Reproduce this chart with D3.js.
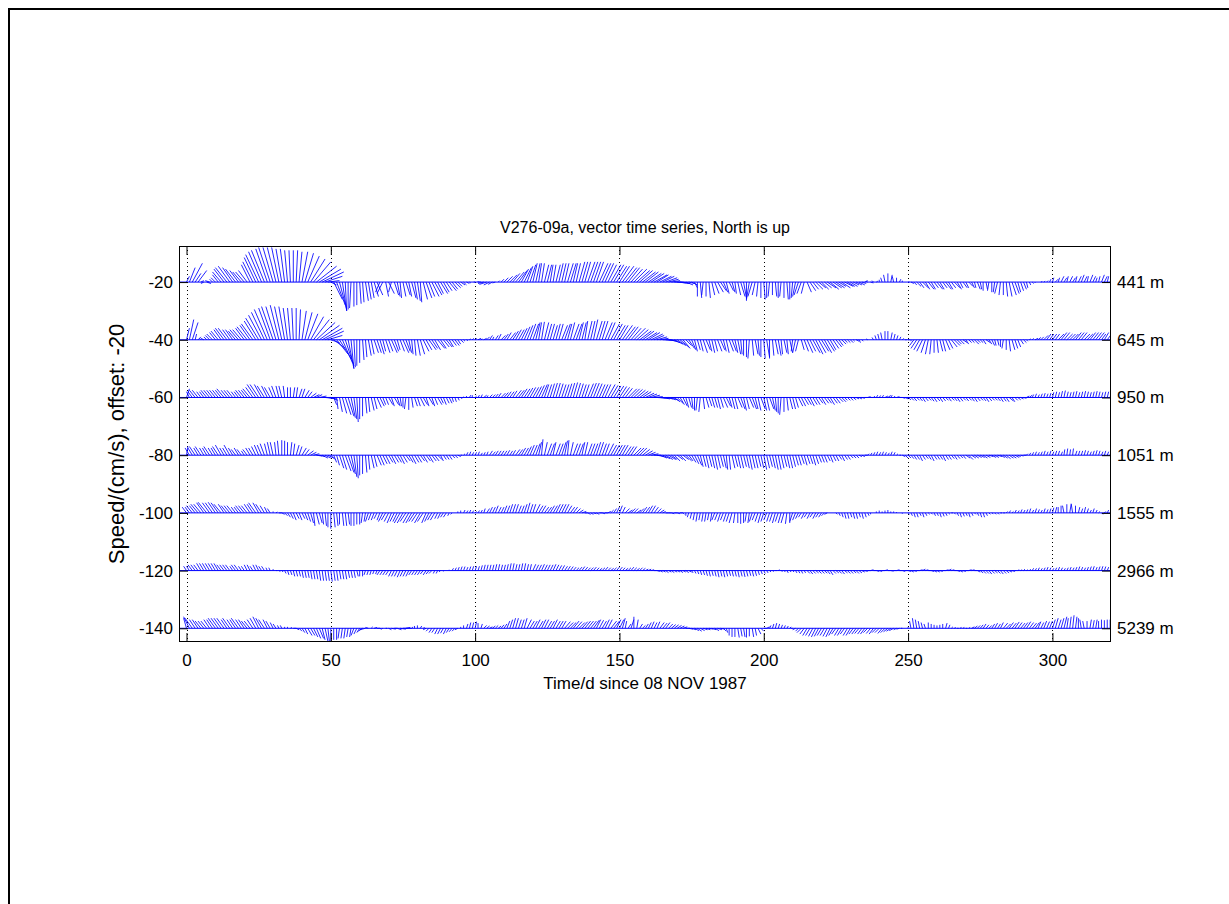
<!DOCTYPE html>
<html>
<head>
<meta charset="utf-8">
<script src="https://cdn.jsdelivr.net/npm/d3@7"></script>
<style>
body { margin: 0; background: #fff; }
text { font-family: "Liberation Sans", Arial, Helvetica, sans-serif; fill: #000; }
</style>
</head>
<body>
<svg id="chart" width="1229" height="904"></svg>
<script>
// depth labels and their vertical offsets (offset step -20)
var depths = ["441 m", "645 m", "950 m", "1051 m", "1555 m", "2966 m", "5239 m"];
var offsets = [-20, -40, -60, -80, -100, -120, -140];
var xTicks = [0, 50, 100, 150, 200, 250, 300];
var yTicks = [-140, -120, -100, -80, -60, -40, -20];

// daily velocity components (cm/s), day 0..320
var u441 = [1,2,3.5,2,3,1,-1,1.5,-1.5,-1,
-1.5,-2,-3,-3.5,-4,-4,-3.5,-3.5,-3,-3,
-3,-3,-3,-3.5,-4,-4.5,-4.5,-4.5,-4,-4,
-3.5,-3,-2.5,-2,-1.5,-1,-0.5,0,0.5,1,
2,3,4,5,6,7,7.5,7.5,6,4,
2,3,3,2.5,1.5,0.5,0,-0.5,0,0,
0.5,0.5,1,1,1,1.5,2,-1.5,-2,1,
2,-1,1.5,1,0.5,1,1.5,1,1.5,1,
1,0.5,1.5,2,2,2.5,2.5,2,2.5,2,
2,2.5,2,2,1.5,1.5,1,1,0.5,0,
-0.5,0,-1,-2,-2.5,-2,-1.5,-1,0.5,1,
1.5,2,2.5,2.5,3,3,2.5,2.5,2,2,
1.5,1.5,1,1,1.5,1.5,1,1,1.5,1.5,
1.5,1.5,2,2,1.5,1.5,2,2,2,2.5,
2.5,2.5,2.5,3,3,3,3,3.5,3.5,3.5,
3.5,4,4,4,4,4.5,4.5,4.5,4.5,4.5,
4.5,4.5,4.5,4,4,4,4,3.5,3,3,
3,3,2.5,2.5,2,2,1,0,0.5,-0.5,
0,0.5,1,1.5,2,2,1.5,1,1.5,1,
0.5,1,1.5,1,0,-1,-1.5,-1,-0.5,0,
0.5,0,-0.5,0,0.5,0,-0.5,0,0.5,0,
-0.5,-1,-1.5,-1.5,-1,1.5,2,2,2.5,2.5,
2.5,2.5,3,3,3,3,2.5,3,3,2.5,
2.5,2,2,2,1.5,1,-0.5,1,-0.5,0.5,
0,-0.5,-0.5,0,0.5,-0.5,0,0.5,0,0,
0.5,1,1,1.5,1.5,2,1.5,2,1.5,1.5,
2,1.5,1.5,2,1.5,1.5,2,1.5,1,1.5,
1,1.5,1,0.5,1,0.5,0,0.5,-0.5,0,
-0.5,-1,-0.5,0,0.5,1,1.5,1.5,1,1,
1,0.5,0.5,0.5,0,0,0.5,0.5,0.5,0.5,
0.5,1,0.5,1,1,0.5,1,1,0.5,1,
1,1,0.5,1,1,0.5,0.5,1,1,0.5,
0.5];
var v441 = [2,5,6.5,3,4,0.5,-0.5,-0.5,0.5,1,
1.5,2.5,3.5,4.5,5,5.5,5,4.5,4,3.5,
3.5,4,6,7,8.5,9.5,10.5,11,11.5,12,
12,12,12,11.5,11.5,11,11,11,11,10.5,
10.5,10,9,8,7,5.5,4.5,3.5,2,0.5,
-1,-6,-8,-9.5,-10,-10,-9.5,-9,-8.5,-8,
-7.5,-7,-6.5,-6,-5.5,-5,-4.5,-3.5,-4,-5,
-4,-3.5,-4.5,-5,-5.5,-5,-4.5,-5,-5.5,-6,
-6.5,-7,-6,-5.5,-5,-5,-4.5,-4,-4,-3.5,
-3,-3,-2.5,-2,-1.5,-1,-1,-0.5,-0.3,0,
0,0.3,0,-0.5,-0.8,-1,-0.8,-0.3,0.5,1,
1.5,2,2.5,3,3.5,4,4.5,5,5.5,6,
6.5,6.5,6.5,6.5,6,6,6,6,6,6.5,
6.5,6.5,6.5,6.5,6.5,6.5,7,7,7,7,
7,7,7,6.5,6.5,6.5,6,6,6,5.5,
5.5,5.5,5,5,4.5,4.5,4,4,3.5,3.5,
3,3,2.5,2.5,2,2,1.5,1,0.5,0,
-0.3,-0.5,-0.5,-1,-0.5,-1,-2,-5,-5.5,-4.5,
-5,-5.5,-4.5,-4,-3.5,-3,-3.5,-4,-3,-3.5,
-4,-4.5,-5,-5.5,-6.5,-6,-5,-4.5,-5,-5.5,
-6,-5.5,-5,-4.5,-5,-5.5,-5,-5.5,-6,-6,
-5.5,-5,-4.5,-4,-4,-3.5,-3,-2.5,-2.5,-2,
-2.5,-2,-2,-2.5,-2,-2,-1.5,-2,-1.5,-1.5,
-1.5,-1,-1,-1,-0.5,0.5,0.3,-0.3,0.5,0.3,
0.8,1.5,2.5,3,2.5,2,1.5,1,0.5,0,
0,-0.5,-1,-1.5,-2,-2,-2.5,-2.5,-2.5,-2,
-2.5,-2.5,-2,-2.5,-2.5,-2,-2,-2.5,-2,-2,
-2,-1.5,-2,-2,-2.5,-2.5,-3,-2.5,-3,-3.5,
-3.5,-4,-4.5,-4.5,-5,-5,-4.5,-4,-3.5,-3,
-2.5,-2,-1,-0.5,-0.3,0,0.2,0.3,0.5,1,
1.5,1,1.5,2,1.5,2,2,1.5,2,2,
2.5,2,2,2.5,2,1.5,2,2.5,2,2,
2];

var u645 = [1,1.5,2,0.5,1,-0.5,-1,-1,-1.5,-2,
-2,-2.5,-2.5,-3,-3,-2.5,-2.5,-2.5,-3,-3,
-3,-3.5,-3.5,-4,-4,-4.5,-4.5,-4.5,-4.5,-4,
-4,-3.5,-3,-2.5,-2,-1.5,-1,-0.5,0,0.5,
1.5,2.5,3.5,4.5,5.5,6.5,7,7,6.5,5,
3,4,4,4,3.5,3,2,1,0.5,0,
0,0.5,0.5,1,1,1.5,1.5,1.5,1,1.5,
1.5,2,1.5,1,1.5,2,1.5,1,0.5,0.5,
1,1.5,2,2,2.5,2,2,2.5,2,2,
2,1.5,1.5,1.5,1,1,0.5,0.5,0.5,0.5,
0.5,1,0.5,1,1,1,0.5,1,1,1.5,
1.5,1.5,2,2,2,2,2,2,2,2,
2,1.5,1,1,1.5,1.5,1.5,1.5,1.5,1.5,
2,2,1.5,1.5,2,2,1.5,1.5,1,1.5,
1.5,1.5,2,2,2,2.5,2.5,3,3,3,
3,3.5,3.5,3.5,3.5,4,4,4,4,4,
4,4,3.5,3.5,3,3,3,3,3,3,
3,3,2.5,2,2,1.5,1,1,1,1.5,
1.5,1,1,1,1.5,1.5,1,1,1.5,1.5,
1,1,0.5,0,0,-0.5,0.5,1,0.5,0,
0.5,1,0,0.5,1,1,0.5,1,0.5,1,
-0.5,-1,-1,1,1.5,2,2,2.5,2.5,2.5,
2.5,2.5,2.5,2,2,2,1.5,1.5,1,1,
1,0.5,1,0.5,0.5,0,-0.5,0,-0.5,-0.5,
-0.5,-0.5,0,0,0.5,0.5,0.5,0.5,0.5,0.5,
0.5,0,-1.5,-2,-2,-2,-1.5,-1,-0.5,0,
0.5,1,1,1.5,1.5,2,2,1.5,1.5,1.5,
1,1,1,1.5,1,1,1,1.5,1,1,
0.5,0.5,0,-0.5,0,0.5,1,1,1,1,
1,0.5,0.5,0.5,1,1,1,1.5,1.5,1.5,
1.5,1.5,2,2,2,2,2,2,2,2,
2,2,2,2,2,2,2,1.5,1.5,1.5,
1.5];
var v645 = [4,7,6,2,1,0.5,0.5,1,1.5,2,
2.5,3,3.5,4,4,3.5,3.5,3,3.5,3.5,
4,4.5,5,5.5,6.5,7.5,8.5,9.5,10.5,11,
11.5,11.5,12,11.5,11.5,11,11,11,11,10.5,
10,9.5,9,8,7,6,5,4,3,1.5,
-1,-3,-5,-6.5,-8,-9,-10,-10,-9.5,-9,
-8,-7,-6,-5.5,-5,-4.5,-4.5,-5,-4,-4.5,
-4,-4.5,-4,-3.5,-4,-4.5,-4,-4.5,-5,-5.5,
-5.5,-5,-4,-3.5,-3.5,-3,-3.5,-3,-3,-2.5,
-2.5,-2.5,-2,-2,-1.5,-1,-0.5,-0.3,0.3,0.5,
0.5,0.5,0.3,0.5,1,1.5,1,1.5,2,1.5,
2,2.5,2.5,3,3.5,3.5,4,4.5,5,5.5,
5.5,6,6,6.2,6,5.5,5.5,5,5.5,5.5,
5,5.5,5.5,6,5.5,5.5,6,6,6.5,6.5,
6.5,7,6.5,6.5,6.5,6,6,5.5,5.5,5,
5,5,4.5,4.5,4,4,3.5,3,3,2.5,
2.5,2,1.5,1,0.5,0,-0.3,-0.5,-1,-1.5,
-2,-2.5,-3,-2,-3,-3.5,-4,-3.5,-4,-4.5,
-3.5,-4,-4.5,-4,-4,-3.5,-4,-4.5,-4,-4,
-4.5,-5,-5,-5.5,-6,-6.5,-5.5,-5,-5.5,-6,
-6.5,-6,-6.5,-5.5,-5,-5.5,-5,-4.5,-5,-4.5,
-4,-4.5,-4,-3.5,-4,-4.5,-4,-4.5,-5,-4.5,
-4,-4.5,-4,-3.5,-3,-2.5,-2,-1.5,-1,-1,
-1,-0.5,-0.5,-1,-0.5,0,0.3,0,0.8,1.5,
2,2.5,3,3,2.5,2,1.5,1,0.5,0,
0,-0.5,-2,-3,-3.5,-4,-4.5,-5,-5,-4.5,
-4.5,-4,-4,-3.5,-3,-2.5,-2,-1.5,-1.5,-1,
-1.5,-1,-1,-1.5,-1,-1,-1.5,-1,-1.5,-2,
-2,-2,-2.5,-3,-3.5,-4,-3.5,-3,-2.5,-1.5,
-1,-0.5,0.3,0.5,0.5,0.8,1,1.5,2,2,
2,2,2,2.5,2.5,2,2,2,2.5,2.5,
2.5,2,2,2.5,2.5,2.5,2.5,2,2.5,2,
2];

var u950 = [1,-1,-1.5,-2,-2,-1.5,-1.5,-2,-2,-2,
-2,-2,-2,-2.5,-2,-2,-2,-1.5,-1.5,-2,
-2,-2,-2.5,-2.5,-3,-3,-2.5,-2.5,-2,-2,
-1.5,-1.5,-1,-1,-0.5,0,0,0.5,0.5,1,
1,1.5,1.5,2,2,2,2.5,3,3,3,
2.5,1,0.5,1,1.5,2,2,1.5,1,0.5,
0,0,0.5,0.5,1,1,1.5,1.5,1,1,
1.5,1,1.5,1,0.5,0,-0.5,0,0.5,1,
1,1.5,1.5,1,1.5,1,1,1.5,1,1,
1,1,0.5,0.5,0.5,0.5,0,0,0.5,0,
0.5,0.5,0.5,1,0.5,1,1,1,1,1.5,
1.5,1.5,1.5,1.5,2,2,2,2,2,2,
2,2,2,2,1.5,1.5,1.5,1.5,1.5,1.5,
1.5,1.5,1.5,1.5,1.5,1.5,1.5,1.5,1.5,2,
2,2,2,2,2,2,2.5,2.5,2.5,2.5,
2.5,2.5,2.5,3,3,3,3,3,3,3,
3,3,3,3,3,2.5,2.5,2.5,2.5,2,
2,1.5,1.5,1,1,0.5,0,-0.5,-0.5,0.5,
1,1,1,1,1,1,1.5,1.5,1,1,
1,1.5,1.5,1,1,1.5,1.5,1,1,1.5,
1,1,1.5,1,0.5,0,-0.5,0,0.5,1,
1,1,1.5,1.5,1.5,1.5,1.5,1.5,1.5,1.5,
1.5,1.5,1.5,1.5,1.5,1.5,1.5,1.5,1,1,
1,1,1,1,1,1,1,1,0.5,0.5,
0.5,0.5,1,1,0.5,0.5,1,1,1,1,
1,1,1,1,1,1,1,1,1,1,
1,1,1,1,1,1,1,1,1,1,
1,1,1,1,1,1,1,1,1,1,
1,1,1,1,1,1.5,1,1,1,1,
1,1,1,0.5,0.5,0.5,0.5,0.5,0.5,0.5,
0.5,0.5,0.5,0.5,0.5,0.5,0.5,0.5,0.5,0.5,
0.5,0.5,0.5,0.5,0.5,0.5,0.5,0.5,0.5,0.5,
0.5];
var v950 = [3,2,2,2.5,2.5,2,2,2.5,2.5,2.5,
2.5,2.5,2.5,3,2.5,2.5,2.5,2,2,2.5,
2.5,2.5,3,3.5,4.5,4.5,4.5,4,4,3.5,
3.5,4,4,4,4,3.5,3.5,3.5,3.5,3,
3,2.5,2,1.5,1,1,0.5,0,-0.3,-0.5,
-1,-2.5,-4,-5,-5.5,-6,-6.5,-7,-7.5,-8.5,
-7.5,-6.5,-5.5,-5,-4.5,-4,-3.5,-3,-2.5,-2.5,
-2.5,-3,-2.5,-3,-3,-3.5,-4,-4.3,-3.5,-3,
-3,-3,-2.5,-3,-2.5,-3,-2.5,-2.5,-2,-2.5,
-2,-2,-1.5,-1.5,-1,-0.5,0.3,0.5,0.8,0.8,
0.5,0.8,1,0.8,0.7,1,1,1.2,1.5,1.5,
1.7,2,2,2.3,2.5,2.5,3,3,3.3,3.5,
3.5,3.8,4.2,4.5,4.5,4.5,4.8,5,5,4.8,
4.5,4.5,4.8,5,5.2,5,4.8,4.5,4.5,4.8,
5,5,4.8,4.5,4.5,4.5,4.5,4.2,4,4,
3.8,3.5,3.2,3,3,2.8,2.5,2.2,2,1.5,
1.2,0.8,0.3,-0.2,-0.3,-0.5,-0.5,-0.8,-1,-1.5,
-2,-2.5,-3,-3.5,-3.5,-4,-4.5,-4.5,-5,-4,
-3.5,-3,-3.5,-3.5,-4,-3.5,-3.5,-3,-3.5,-4,
-4,-3.5,-4,-4.5,-4,-3.5,-4,-4,-4.5,-4,
-4.5,-4.5,-4,-4.5,-5,-5.5,-6,-5,-4.5,-4,
-4,-3.5,-3,-3,-2.5,-2.5,-3,-2.5,-2.5,-2,
-2.5,-2,-2,-2.5,-2,-2,-1.5,-1.5,-1,-1,
-1,-0.8,-0.5,-0.5,-0.3,0,0.3,0,0.5,0.8,
0.7,0.8,0.5,0.7,0.8,0.5,0.3,0,-0.3,-0.5,
-0.8,-1,-1.2,-1,-1.2,-1.5,-1.2,-1,-1.3,-1.5,
-1.2,-1.5,-1.2,-1,-1.3,-1,-1.2,-1.5,-1.3,-1,
-1.2,-1,-1.3,-1.5,-1.2,-1,-1.2,-1.5,-1.2,-1,
-1,-1.2,-1.5,-1.3,-1.5,-1.2,-1.5,-1,-0.8,-0.5,
-0.3,0.5,0.8,1,1.3,1,1.3,1.5,1.3,1.5,
1.8,2,1.8,2.2,2.4,2,1.8,2,2.2,1.8,
2,2.2,2,1.8,2,2.2,2,1.8,2,2,
1.8];

var u1051 = [0.5,-1.5,-1.5,-2,-1.5,-2,-1.5,-1.5,-2,-1.5,
-1.5,-2,-2,-1.5,-1.5,-2,-1.5,-1.5,-1.5,-1.5,
-1,-1.5,-1.5,-1.5,-1.5,-1.5,-1.5,-1.5,-1,-1,
-1,-0.5,-0.5,0,0,0,0.5,0.5,1,1,
1.5,1.5,2,2,2,2,2,2,2,2,
1.5,1,1,1.5,1.5,2,2,1.5,1,0.5,
0,0,0.5,0.5,1,1,1.5,1.5,1.5,1.5,
1.5,1.5,1.5,1.5,1.5,1.5,1.5,1.5,1.5,1.5,
1.5,1.5,1.5,1.5,1.5,1.5,1.5,1.5,1,1,
1,1,1,1,1,0.5,0.5,0.5,0.5,0.5,
0.5,0.5,0.5,0.5,0.5,1,1,1,1,1,
1,1,1,1,1.5,1.5,1.5,1.5,1.5,1.5,
1.5,1.5,1,0.5,1,1.5,1.5,1,1.5,1.5,
1.5,1,0.5,1,1.5,1.5,1.5,1,1,1.5,
1.5,1.5,1.5,1.5,1.5,1.5,2,2,2,2,
2,2,2,2,2,2.5,2.5,2.5,2.5,2.5,
2.5,2.5,2.5,2.5,2.5,2.5,2.5,2.5,2,2,
2,2,2,2,1.5,1.5,1.5,1.5,1,1,
1,1,1,1,1,1,1,0.5,0.5,1,
1,1,1,1,1,1,1,1,1,1,
1,1,1,1,1,1,1,1,1,1,
1,1,1,1,1,1,1,1,1,1,
1,1,1,1,1,1,1,1,1,1,
1,1,1,1,1,1,0.5,0.5,0.5,0.5,
0.5,0.5,0.5,0.5,0.5,0.5,0.5,0.5,1,1,
1,1,1,1,1,1,1,1,1,1,
1,1,1,1,1,1,1,1,1,1,
1.5,1.5,1.5,1.5,1.5,1.5,1.5,1.5,1.5,1.5,
1.5,1.5,1.5,1.5,1.5,1.5,1.5,1.5,1,1,
1,0.5,0.5,0.5,0.5,0.5,0.5,0.5,0.5,0.5,
0.5,0.5,0.5,0.5,0.3,0.3,0.3,0.3,0.5,0.5,
0.5,0.5,0.5,0.5,0.5,0.5,0.5,0.5,0.5,0.5,
0.5];
var v1051 = [3,2.5,2.5,3,2.5,3,2.5,2.5,3,2.5,
2.5,3,3.5,2.5,2.5,3.5,2.5,2,2.5,2,
1.5,2,2.5,2.5,3,3.5,3.5,4,4,4.5,
4.5,4.5,5,5.2,5,4.5,4.5,4,3.5,3,
2.5,2,1.5,1,0.5,-0.3,-0.5,-1,-1,-1,
-1.5,-2.5,-3.5,-4.5,-5,-5.5,-6,-6.5,-7.5,-8,
-7,-6.5,-6,-5,-4.5,-4,-3.5,-3.5,-3,-3,
-2.5,-3,-2.5,-2.5,-3,-2.5,-2,-2.5,-3,-2.5,
-2.5,-2,-2.5,-2,-2.5,-2,-2,-1.5,-2,-1.5,
-1.5,-1.5,-1,-1,-0.5,0,0.5,1,1.2,1,
1,1.2,0.8,1,1.2,1.5,1.2,1.5,1.5,1.5,
1.5,1.7,1.5,1.7,2,2,2.5,2.5,3,3.5,
3.5,4,4.5,5.5,4.5,4,4,4.5,4,4,
4.5,5,5.2,4.5,4,4,4,4.5,4.5,4,
4,4,4.5,4.5,4,4,4,3.5,3.5,3.5,
3.5,3.5,3,3,3,2.5,2.5,2.5,2,1.5,
1,0.5,0,-0.5,-1,-1.2,-1.5,-1.5,-1.5,-2,
-1.5,-2,-1.5,-2,-2,-2.5,-3,-3.5,-4,-4,
-4.5,-4,-4.5,-5,-4.5,-4,-4.5,-5,-5,-4.5,
-4,-4.5,-4.5,-4,-4.5,-5,-4.5,-4.5,-4,-4.5,
-5,-4.5,-4,-4.5,-5,-5,-4.5,-4,-4.5,-4.5,
-4,-3.5,-3.5,-3,-3.5,-3,-3,-3.5,-3,-2.5,
-2.5,-2.5,-2,-2.5,-2,-2,-1.5,-2,-1.5,-1.5,
-1,-1,-1,-0.5,-0.5,0,0.5,0.8,1,1.2,
1,1.2,1,0.8,1.2,1,0.5,0,-0.5,-1,
-1,-1.2,-1.5,-1.5,-2,-1.5,-1.2,-1.5,-2,-1.5,
-1.5,-1.5,-2,-1.5,-1.5,-1.2,-1.5,-1.2,-1,-1.2,
-1,-1.5,-1,-1,-0.8,-0.8,-1,-0.8,-0.5,-0.8,
-0.8,-0.5,-0.8,-1,-1.2,-1,-1,-0.8,-0.5,-0.3,
0,0.5,0.8,1,1.2,1,1.2,1.5,1.2,1.5,
1.2,1.5,1.5,1.2,2,2.3,2,2.3,1.5,1.5,
1.5,1.7,1.5,1.2,1.5,1.7,1.5,1.2,1.5,1.2,
1.5];

var u1555 = [-1.5,-1.5,-2,-2,-2.5,-2.5,-2.5,-3,-2.5,-2.5,
-2.5,-2.5,-2.5,-2,-2,-2,-2,-1.5,-1.5,-2,
-2,-2,-2,-2,-2.5,-2,-2,-1.5,-1,-1,
0,0.5,1,1,1,1,1,1,1,1,
1,1,1,1,0.5,1,1,0.5,0.5,0,
0,0.5,0.5,0,0.5,0.5,0.5,0,0,0,
0,-0.5,-0.5,-1,-1,-1,-1,-1,-1.5,-1.5,
-1.5,-1.5,-1.5,-1.5,-2,-2,-2,-2,-2,-2,
-2,-2,-2,-1.5,-1.5,-1.5,-1.5,-1,-1,-1,
-1,-0.5,-0.5,0,0,0,0.5,0.5,0.5,0.5,
0.5,0.5,0.5,0.5,1,1,1,1,1,1,
1,1,1,1,1,1,1,1,1,1,
1,1.5,1.5,1.5,1.5,1.5,1.5,1.5,1.5,1.5,
1.5,1.5,1.5,1.5,1.5,1.5,1.5,1.5,1,1,
1,1,1,1,1,1,1,1,1,1,
1,1,1.5,1.5,1.5,1.5,1.5,1.5,1.5,1.5,
1.5,1.5,1.5,1.5,1.5,1,1,1,1,1,
1,1,0.5,0,-0.5,-0.5,-0.5,-0.5,-0.5,-0.5,
-0.5,-0.5,-0.5,-1,-1,-1,-1,-1,-1,-1,
-0.5,0,0,0,-0.5,-0.5,-1,-1,-1,-1,
-1,-1,-1,-1,-1,-1,-1,-1,-0.5,0,
-1,-1,-1,-1,-1,-1,-1,-1,-1,-1,
-1,-1,-1,0,0,0.5,0.5,0.5,0.5,0.5,
0.5,0.5,0.5,0.5,0.5,0.5,0.5,0,0,0,
0,0,0,0,0,0,0,0,0,0,
0.5,0.5,0.5,0.5,0.5,0.5,0.5,0.5,0.5,0.5,
0.5,0.5,0.5,0.5,0.5,0.5,0.5,0.5,0.5,0.5,
0.5,0.5,0.5,0.5,0.5,0.5,0.5,0.5,0.5,0.5,
0.5,0.5,0.5,0.5,0.5,0.5,0.5,0.5,0.5,0.5,
0.5,0.5,0.5,0.5,0.5,0.5,0.5,0.5,0.5,0.5,
0.5,0.5,0,0,-0.5,0,0.5,-0.5,0,0.5,
0.5,0.5,0.5,0.5,0.5,0.5,0.5,0.5,0.5,0.5,
0.5];
var v1555 = [2,2,2.5,2.5,3,3,3.5,3.7,3.5,3.5,
3.7,3.5,3,3,2.5,2.5,2.5,2,2,2.5,
2.5,2.5,3,3,3.5,3.5,3,2.5,2,1.5,
0.5,0.3,0,-0.5,-1,-1.5,-2,-2.5,-2,-2.5,
-2,-2.5,-3,-3.5,-4.5,-4,-3.5,-4,-4.5,-5,
-5.5,-5,-4.5,-4,-4.5,-4.5,-4,-4.5,-4.5,-4,
-4,-3.5,-3,-3,-2.5,-2.5,-2,-2.5,-3,-2.5,
-3,-3.5,-3,-3,-3.5,-3.5,-3,-3.5,-3.5,-3,
-3,-3.5,-3,-3.5,-3,-2.5,-2.5,-2,-2,-1.5,
-1.5,-1,-0.5,0,0.5,0.8,1,0.8,1,0.8,
0.5,0.8,1,1.5,1.5,2,2,2.5,2,2,
2.5,2.5,3,3,3,2.5,2.5,3,3.5,3,
3,3,2.5,2.5,2,2,2.5,2.5,3,3,
3,3,2.5,2,2,1.5,1,0.5,0,-0.5,
-0.5,-0.3,-0.5,0,-0.3,0,0.5,1,1.5,2,
2.5,2,1.5,1,1.5,1.5,1,1.5,2,2,
2.5,2.5,2,1.5,1,0.5,0,0,-0.3,0,
-0.3,0,-0.5,-1,-1.5,-2,-2.5,-3,-2.5,-3,
-3,-2.5,-3,-2.5,-2.5,-3,-2.5,-3,-3,-3.5,
-3.5,-3.5,-3.8,-3.5,-3,-3.5,-3,-2.5,-3,-3.5,
-3,-2.5,-3,-3,-3.5,-3,-3.5,-3.5,-3.8,-3.5,
-3,-2.5,-2,-1.5,-2,-1.5,-2,-1.5,-2,-1.5,
-1.5,-1,-0.5,0,0,-0.5,-1,-1.5,-2,-2,
-1.5,-2,-2,-1.5,-2,-1.5,-1,-0.5,0,0.5,
0.8,0.5,0.8,1,0.5,0.5,0.3,0,-0.3,0,
-0.5,-1,-1.5,-1.5,-1,-1.5,-1,-0.5,-0.5,-1,
-1,-1.5,-1.2,-1,-0.5,0,-0.5,-1,-1.5,-1.2,
-1,-1.5,-1,-0.5,-1,-1.5,-1.5,-1,-0.5,-0.3,
-0.5,-0.5,0,0,0.5,0.8,0.5,1,0.8,1.2,
1,1.2,1.5,1,1.5,1.2,1,1.5,1.2,1.5,
1.8,2,2,2.5,2.5,3,3,3.2,2.5,2,
1.5,2,1.5,1,1.5,1,0.5,-0.5,0.5,1,
0.8];

var u2966 = [-1,-1,-1.5,-1.5,-1.5,-1.5,-1.5,-1.5,-1.5,-1.5,
-1.5,-1.5,-1.5,-1.5,-1.5,-1.5,-1,-1.5,-1.5,-1,
-1,-1,-1,-1,-1,-1,-1,-1,-0.5,-0.5,
0,0.5,0.5,0.5,0.5,0.5,0.5,0.5,0.5,0.5,
0.5,0.5,0.5,0.5,0.5,0.5,0.5,0.5,0.5,0.5,
0.5,0.5,0.5,0.5,0.5,0.5,0.5,0.5,0.5,0.5,
0,0,-0.5,-0.5,-0.5,-0.5,-0.5,-1,-1,-1,
-1,-1,-1,-1,-1,-1,-1,-1,-1,-1,
-1,-1,-1,-1,-1,-1,-0.5,-0.5,-0.5,0,
0,0,0.5,0.5,0.5,0.5,0.5,0.5,0.5,0.5,
0.5,0.5,0.5,0.5,0.5,0.5,0.5,0.5,0.5,0.5,
0.5,0.5,0.5,0.5,0.5,0.5,0.5,0.5,0.5,0.5,
1,1,1,1,1,1,1,1,1,1,
1,1,1,1,1,1,1,1,1,1,
1,1,1,1,1,1,1,1,1,1,
1,1,1,1,1,1,1,1,1,1,
1,1,1,1,1,1,1,1,1,1,
1,1,1,1,1,0.5,0.5,0.5,0.5,0.5,
0.5,0.5,0.5,0.5,0.5,0.5,0.5,0.5,0.5,0.5,
0.5,0.5,0.5,0.5,0.5,0.5,0.5,0.5,0.5,0.5,
0.5,0.5,0.5,0.5,0.5,0.5,0.5,0.5,0.5,0.5,
0.5,0.5,0.5,0.5,0.5,1,1,1,1,1,
1,1,1,1,1,1,1,1,1,1,
1,1,1,1,1,1,1,1,1,1,
1,1,1,1,1,1,1,1,1,1,
1,1,1,1,1,1,1,1,1,1,
1,1,1,1,1,1,1,1,1,1,
1,1,1,1,1,1,1,1,1,1,
1,1,1,1,1,1,1,0.5,0.5,0.5,
0.5,0.5,0.5,0.5,0.5,0.5,0.5,0.5,0.5,0.5,
0.5,0.5,0.5,0.5,0.5,0.5,0.5,0.5,0.5,0.5,
0.5,0.5,0.5,0.5,0.5,0.5,0.5,0.5,0.5,0.5,
0.5];
var v2966 = [1.5,1.5,2,2,2,2.5,2.5,2.5,2.5,2.5,
2.5,2.5,2,2,2,2,1.5,2,2,1.5,
1.5,2,2,1.5,2,2,1.5,1.5,1,1,
0.5,0,-0.3,-0.5,-1,-1.5,-1.5,-2,-2,-2,
-2.5,-2.5,-2.5,-3,-3,-3,-3.5,-3.5,-3.5,-3.5,
-3.8,-3.5,-3.5,-3,-3,-3,-2.5,-2.5,-2.5,-2,
-2,-2,-1.5,-1.5,-1.5,-1.2,-1.2,-1.5,-1.5,-1.5,
-1.5,-2,-2,-2,-2.3,-2,-2,-2,-1.5,-1.5,
-1.5,-1.5,-1.2,-1.5,-1.2,-1,-1,-1,-0.5,-0.3,
0,0.3,0.8,1,1.2,1.4,1.4,1.2,1.4,1.5,
1.5,1.5,1.8,2,2,2,2,2.2,2.2,2,
2,2.2,2.5,2.5,2.2,2.2,2.5,2.5,2.2,2.2,
2.2,2,2,2.2,2,2,2,2.2,2,1.8,
1.8,1.5,1.5,1.4,1.2,1,1.2,1.4,1.2,1,
1,1.2,1,0.8,1,1.2,1,0.8,1,1.2,
1.2,1,0.8,1,1.2,1,0.8,1,0.8,0.5,
0.5,0.3,0,-0.3,-0.5,-0.5,-0.7,-0.5,-0.7,-0.5,
-0.5,-0.7,-0.5,-0.7,-0.5,-0.8,-1,-1.2,-1.5,-1.5,
-1.8,-2,-1.8,-2,-2.3,-2,-2.3,-2,-1.8,-2,
-2,-2.3,-2,-2.2,-2,-1.8,-2,-1.8,-1.5,-1.2,
-1,-0.8,-0.5,-0.3,0,0.3,-0.3,-0.5,-0.8,-0.5,
-0.5,-0.8,-0.9,-1,-0.8,-1,-1.2,-1,-0.8,-1,
-1,-0.9,-1.2,-1.5,-1,-0.8,-1,-1.2,-0.8,-1,
-1,-0.8,-1,-0.8,-0.5,-0.3,0,0.3,0,-0.3,
-0.3,0,0.3,0,-0.2,0,0.3,0,-0.3,0,
-0.3,-0.5,-0.3,0,0.3,0.5,0.3,0,-0.3,-0.5,
-0.5,-0.3,0,0.3,0.5,0.3,0,-0.3,-0.5,-0.3,
0,0.3,0.3,0,-0.5,-0.8,-1,-1,-1.2,-1,
-0.8,-1,-1.2,-1,-0.8,-0.5,-0.3,0,0.3,0.3,
0.5,0.3,0.5,0.8,0.8,1,0.8,1,1.2,1,
0.8,1,1.2,1,0.8,1,1.2,1,1.2,1.4,
1.2,1,1.2,1.4,1.5,1.2,1.4,1.5,1.4,1.2,
1.4];

var u5239 = [-1,-2,-2.5,-2,-2,-2,-2,-2,-2,-2,
-2.5,-2.5,-2.5,-2.5,-2,-2.5,-2,-2,-2.5,-2,
-2,-2,-2,-2,-2,-2,-2,-2,-1.5,-1.5,
-1,-1,-0.5,-0.5,0,0,0.5,1,1,1,
1,1,1.5,1.5,1.5,1.5,1.5,1,1,0.5,
0,0,0,-0.5,-0.5,-0.5,-0.5,-0.5,-1,-1,
-1,-1.5,-2,-1,0.5,1,1,0.5,-0.5,0.5,
1,1.5,1,1.5,2,2,1.5,1,0.5,0,
0,0.5,0.5,-1,-1,-1,-1,-1,-1,-1,
-1,-1,-1,-1,-1,0,0,0.5,0.5,0.5,
0.5,0,0.5,1,1,1,1,1,1,1,
1,1,1,1,1,1,1,1,1.5,1.5,
1.5,1.5,1.5,1.5,1.5,1.5,1.5,1.5,1.5,1.5,
1.5,2,2,2,2,2,2,2,2,2,
2,2,1.5,1.5,1.5,1.5,1.5,2,2,1.5,
1.5,1,0.5,1,1,0,0.5,1,1,1,
1,1,1,1,1.5,1.5,1.5,1.5,1.5,1.5,
1.5,1.5,1.5,1.5,1.5,1.5,1.5,1.5,1.5,1.5,
1.5,1.5,1.5,1.5,1.5,1.5,1,0.5,0,0,
0,0.5,0.5,0.5,0,0,0.5,0.5,1,1,
1,1,0.5,0.5,0.5,0.5,0.5,0.5,0.5,0.5,
-0.5,-1,-1,-1.5,-1.5,-1.5,-1.5,-1.5,-1.5,-1.5,
-1.5,-1.5,-1.5,-1.5,-1.5,-1.5,-1.5,-1.5,-1.5,-1.5,
-1.5,-1.5,-1.5,-1.5,-1.5,-1.5,-1.5,-1.5,-1.5,-1.5,
-1.5,-1.5,-1.5,-1.5,-1.5,-1.5,-1,-1,-0.5,0,
0,-0.5,-0.5,-0.5,-0.5,-0.5,-0.5,0,0,0,
0,0,0,0.5,0.5,0.5,0.5,0.5,0.5,0.5,
0.5,0.5,1,1,1,1,1,1,1,1,
1,1,1,1.5,1.5,1.5,1.5,1.5,1.5,1.5,
1.5,1.5,1.5,1.5,1.5,1,1,1,1,1,
1,1,1,1,1,0.5,0.5,0.5,0.5,0,
-0.5,-0.5,0,0.5,0.5,0.5,0,0,0,0,
0];
var v5239 = [3.5,4,3.5,3,3,2.5,2.5,2.5,3,3,
3.5,3.5,3.5,3.5,3,3.5,3,3,3.5,3,
3,2.5,2.5,3,3.5,4,3.5,3,3,2.5,
2,1.5,1,1,0.5,0.5,0.3,0,-0.5,-1,
-1.5,-2,-2.5,-2.5,-3,-3.5,-3.5,-4,-4.5,-4.5,
-4.5,-4,-4,-3.5,-3.5,-3.5,-3,-3,-2.5,-2,
-1.5,-1,-0.5,0.3,0.5,0.3,0,-0.3,-0.3,0,
-0.5,-0.3,0,-0.5,-0.3,0,0.3,0,0.5,0.8,
1,0.8,0.3,-0.5,-1,-1.5,-1.5,-2,-2,-1.7,
-2,-1.5,-1.2,-1,-0.5,0.5,1,1.5,2,2,
2.3,1.8,1.5,1,0.8,0.5,0.8,1,0.8,1.2,
1.5,2.5,3,3.5,3.5,3,3,3.5,3,2.5,
2.5,3,2.5,3,3,2.5,2.5,3,2.5,2.5,
2.5,2.3,2,2,2.5,2.3,2,2.3,2.5,2.5,
2.5,2.8,3,2.8,2.5,3,3,2.5,2.5,3,
3,3.5,2.5,1.5,3,4,3,1.5,1,1.5,
2,2.3,2,2.3,2,1.8,2,1.5,1.3,1.2,
1,0.8,0.5,0,-0.3,-0.5,-0.8,-1,-0.8,-0.5,
-0.5,-0.3,-0.5,-0.8,-0.5,-0.3,-1,-1.5,-2.5,-3,
-3,-3.2,-2.8,-3,-3.2,-2.8,-3,-2.5,-2,-1,
0,0.5,1,1.5,1.8,1.5,1.2,1,0.8,0.5,
0,-0.5,-1,-1.5,-2,-2.5,-2.5,-2.8,-3,-2.8,
-2.5,-2.5,-2.8,-3,-2.5,-2,-2.5,-2.5,-2,-2.5,
-2.5,-2,-2,-1.8,-2,-2,-1.5,-1.8,-2,-1.5,
-1.5,-1.8,-1.5,-1.2,-1,-0.8,-0.5,-0.3,0,0,
0.5,2.5,3.5,3,2.5,2,1.5,2,1.5,1.2,
1,1.2,1.5,1.8,1.2,0.5,0.3,0,0.3,0.3,
0,0.3,0.5,0.8,1,1.2,1.5,1.2,1,1.5,
1.8,1.5,2,1.8,1.5,2,1.8,2.2,2,1.8,
2,2.3,2,1.8,2,2.3,2,2.5,2.3,2.5,
3,3.5,3,3.5,4,3.5,4,4.5,4,3.5,
3,2.5,2.5,3,2.8,3,2.5,3,2.8,3,
3];

var series = [
  { depth: depths[0], off: offsets[0], u: u441,  v: v441 },
  { depth: depths[1], off: offsets[1], u: u645,  v: v645 },
  { depth: depths[2], off: offsets[2], u: u950,  v: v950 },
  { depth: depths[3], off: offsets[3], u: u1051, v: v1051 },
  { depth: depths[4], off: offsets[4], u: u1555, v: v1555 },
  { depth: depths[5], off: offsets[5], u: u2966, v: v2966 },
  { depth: depths[6], off: offsets[6], u: u5239, v: v5239 }
];

var svg = d3.select("#chart");
var W = 1229, H = 904;
var L = 179, R = 1111, T = 246, B = 642;
var fontSize = 17;

// outer frame (top and left edges)
svg.append("line").attr("x1", 8).attr("x2", W).attr("y1", 9).attr("y2", 9)
    .attr("stroke", "#000").attr("stroke-width", 2);
svg.append("line").attr("x1", 9).attr("x2", 9).attr("y1", 8).attr("y2", H)
    .attr("stroke", "#000").attr("stroke-width", 2);

// equal aspect: 1 day == 1 cm/s on screen
var x = d3.scaleLinear().domain([-2.6, 320.3]).range([L, R]);
var y = d3.scaleLinear().domain([-144.75, -7.5]).range([B, T]);

svg.append("defs").append("clipPath").attr("id", "clip")
    .append("rect").attr("x", L).attr("y", T).attr("width", R - L).attr("height", B - T);

// dotted vertical grid
svg.append("g").selectAll("line")
    .data(xTicks)
    .enter()
    .append("line")
    .attr("x1", function(d) { return Math.round(x(d)) + 0.5; })
    .attr("x2", function(d) { return Math.round(x(d)) + 0.5; })
    .attr("y1", T).attr("y2", B)
    .attr("stroke", "#000")
    .attr("stroke-width", 1)
    .attr("stroke-dasharray", "1,3");

var plot = svg.append("g").attr("clip-path", "url(#clip)");

series.forEach(function(s) {
    var n = Math.min(s.u.length, s.v.length);
    var g = plot.append("g")
        .attr("stroke", "#0000ff")
        .attr("stroke-width", 0.85);
    g.selectAll("line")
        .data(d3.range(n))
        .enter()
        .append("line")
        .attr("x1", function(i) { return x(i); })
        .attr("y1", y(s.off))
        .attr("x2", function(i) { return x(i + s.u[i]); })
        .attr("y2", function(i) { return y(s.off + s.v[i]); });
    // baseline
    plot.append("line")
        .attr("x1", L).attr("x2", R)
        .attr("y1", y(s.off)).attr("y2", y(s.off))
        .attr("stroke", "#0000ff").attr("stroke-width", 1);
});

function styleAxis(g) {
    g.select(".domain").remove();
    g.selectAll(".tick line").attr("stroke", "#000");
    g.selectAll("text")
        .attr("font-family", "'Liberation Sans', Arial, Helvetica, sans-serif")
        .attr("font-size", fontSize)
        .attr("fill", "#000");
}

var fmt = function(d) { return String(d); };

svg.append("g").attr("transform", "translate(0," + B + ")")
    .call(d3.axisBottom(x).tickValues(xTicks).tickSize(-9).tickPadding(12).tickFormat(fmt))
    .call(styleAxis);
svg.append("g").attr("transform", "translate(0," + T + ")")
    .call(d3.axisTop(x).tickValues(xTicks).tickSize(-9).tickFormat(""))
    .call(styleAxis);
svg.append("g").attr("transform", "translate(" + L + ",0)")
    .call(d3.axisLeft(y).tickValues(yTicks).tickSize(-9).tickPadding(6).tickFormat(fmt))
    .call(styleAxis);
svg.append("g").attr("transform", "translate(" + R + ",0)")
    .call(d3.axisRight(y).tickValues(yTicks).tickSize(-9).tickFormat(""))
    .call(styleAxis);

// axes box
svg.append("rect")
    .attr("x", L + 0.5).attr("y", T + 0.5)
    .attr("width", R - L - 1).attr("height", B - T - 1)
    .attr("fill", "none").attr("stroke", "#000").attr("stroke-width", 1);

// depth labels on the right
svg.append("g").selectAll("text")
    .data(series)
    .enter()
    .append("text")
    .attr("x", R + 6)
    .attr("y", function(d) { return y(d.off); })
    .attr("dy", "0.35em")
    .attr("font-size", fontSize)
    .text(function(d) { return d.depth; });

// title and axis labels
svg.append("text")
    .attr("x", (L + R) / 2).attr("y", 233)
    .attr("text-anchor", "middle").attr("font-size", 16)
    .text("V276-09a, vector time series, North is up");

svg.append("text")
    .attr("x", (L + R) / 2).attr("y", 689)
    .attr("text-anchor", "middle").attr("font-size", fontSize)
    .text("Time/d since 08 NOV 1987");

svg.append("text")
    .attr("transform", "translate(124," + ((T + B) / 2) + ") rotate(-90)")
    .attr("text-anchor", "middle").attr("font-size", 22)
    .text("Speed/(cm/s), offset: -20");
</script>
</body>
</html>
